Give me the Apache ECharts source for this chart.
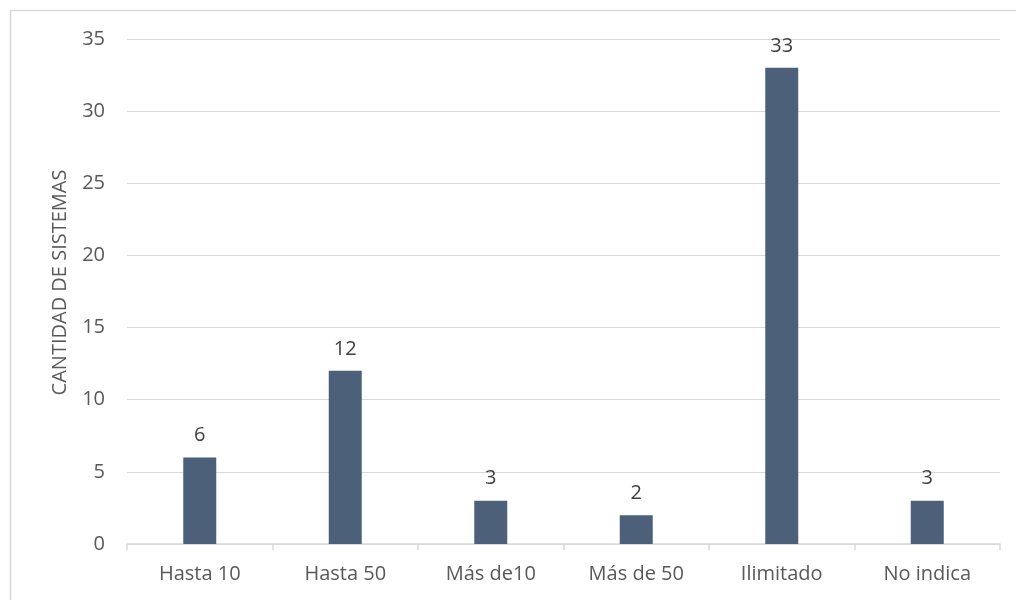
<!DOCTYPE html>
<html>
<head>
<meta charset="utf-8">
<script src="https://cdn.jsdelivr.net/npm/echarts@6/dist/echarts.min.js"></script>
<style>
  html, body { margin: 0; padding: 0; background: #fff; }
  #chart { width: 1016px; height: 600px; }
</style>
</head>
<body>
<div id="chart"></div>
<script>
// Systems grouped by supported capacity
const categories = ['Hasta 10', 'Hasta 50', 'Más de10', 'Más de 50', 'Ilimitado', 'No indica'];
const counts = [6, 12, 3, 2, 33, 3];
const yTicks = { min: 0, max: 35, step: 5 };
const yAxisTitle = 'CANTIDAD DE SISTEMAS';

const font = '"Open Sans", "Liberation Sans", sans-serif';
const textColor = '#595959';

const chart = echarts.init(document.getElementById('chart'), null, { renderer: 'canvas' });
chart.setOption({
  animation: false,
  backgroundColor: '#ffffff',
  graphic: [{
    type: 'rect',
    shape: { x: 10.5, y: 10.5, width: 1012, height: 600 },
    style: { fill: 'none', stroke: '#d9d9d9', lineWidth: 1.5 },
    silent: true
  }],
  grid: { left: 127, right: 16, top: 39, bottom: 56 },
  xAxis: {
    type: 'category',
    data: categories,
    boundaryGap: true,
    axisLine: { lineStyle: { color: '#d9d9d9', width: 1.5 } },
    axisTick: { show: true, length: 6, alignWithLabel: false, lineStyle: { color: '#d9d9d9', width: 1.5 } },
    axisLabel: { color: textColor, fontFamily: font, fontSize: 20, margin: 20 }
  },
  yAxis: {
    type: 'value',
    min: yTicks.min,
    max: yTicks.max,
    interval: yTicks.step,
    name: yAxisTitle,
    nameLocation: 'middle',
    nameGap: 57,
    nameRotate: 90,
    nameTextStyle: { color: textColor, fontFamily: font, fontSize: 20, padding: [0, 0, 0, 18] },
    axisLine: { show: false },
    axisTick: { show: false },
    splitLine: { lineStyle: { color: '#d9d9d9', width: 1.2 } },
    axisLabel: { color: textColor, fontFamily: font, fontSize: 20, margin: 22 }
  },
  series: [{
    type: 'bar',
    data: counts,
    barWidth: 33,
    itemStyle: { color: '#4d6079' },
    label: {
      show: true,
      position: 'top',
      distance: 12,
      color: '#404040',
      fontFamily: font,
      fontSize: 20
    }
  }]
});
</script>
</body>
</html>
